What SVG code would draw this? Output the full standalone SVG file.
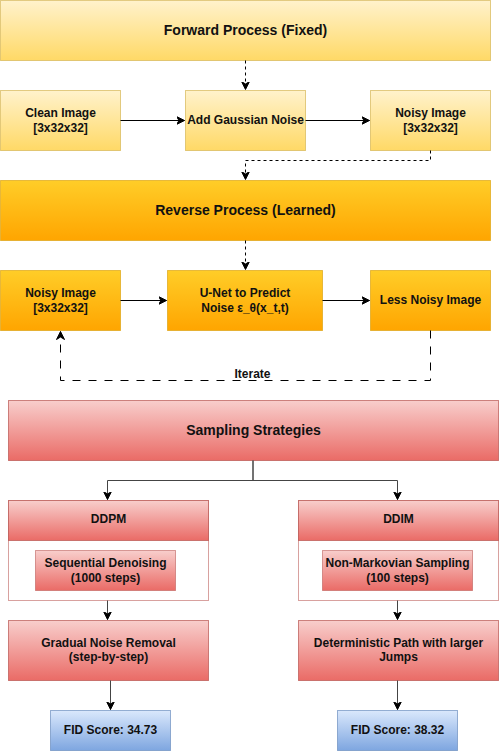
<svg xmlns="http://www.w3.org/2000/svg" width="499" height="751" viewBox="0 0 499 751">
<defs>
<linearGradient id="gY" x1="0" y1="0" x2="0" y2="1"><stop offset="0" stop-color="#fff2cc"/><stop offset="1" stop-color="#ffd966"/></linearGradient>
<linearGradient id="gO" x1="0" y1="0" x2="0" y2="1"><stop offset="0" stop-color="#ffcd28"/><stop offset="1" stop-color="#ffa500"/></linearGradient>
<linearGradient id="gR" x1="0" y1="0" x2="0" y2="1"><stop offset="0" stop-color="#f8cecc"/><stop offset="1" stop-color="#ea6b66"/></linearGradient>
<linearGradient id="gB" x1="0" y1="0" x2="0" y2="1"><stop offset="0" stop-color="#dae8fc"/><stop offset="1" stop-color="#7ea6e0"/></linearGradient>
<marker id="arr" markerUnits="userSpaceOnUse" markerWidth="10" markerHeight="10" viewBox="0 0 10 10" refX="8" refY="5" orient="auto">
<path d="M0,1 L8,5 L0,9 L2.5,5 Z" fill="#000" stroke="#000" stroke-width="1" stroke-linejoin="miter"/>
</marker>
<style>
.y{fill:url(#gY);stroke:#d6b656;stroke-opacity:0.7}
.o{fill:url(#gO);stroke:#d79b00;stroke-opacity:0.6}
.r{fill:url(#gR);stroke:#b85450;stroke-opacity:0.7}
.rs{fill:url(#gR);stroke:#b85450;stroke-opacity:0.55}
.lane{fill:#fff;stroke:#b85450;stroke-opacity:0.55}
.b{fill:url(#gB);stroke:#6c8ebf;stroke-opacity:0.7}
text{font-family:"Liberation Sans",Arial,Helvetica,sans-serif;font-weight:bold;fill:#111;text-anchor:middle}
.t14{font-size:14px}
.t12{font-size:12px}
.e{fill:none;stroke:#000;stroke-width:1}
.eg{fill:none;stroke:#444;stroke-width:1}
.d{stroke-dasharray:3 3}
.dl{stroke-dasharray:8 8}
</style>
</defs>
<g transform="translate(0.5,0.5)">
<g id="forward"><rect class="y" x="0" y="0" width="490" height="60"/><text class="t14" x="245" y="34">Forward Process (Fixed)</text></g>
<g id="clean"><rect class="y" x="0" y="90" width="120" height="60"/><text class="t12" x="60" y="116">Clean Image</text><text class="t12" x="60" y="131">[3x32x32]</text></g>
<g id="addnoise"><rect class="y" x="185" y="90" width="120" height="60"/><text class="t12" x="245" y="123">Add Gaussian Noise</text></g>
<g id="noisy1"><rect class="y" x="370" y="90" width="120" height="60"/><text class="t12" x="430" y="116">Noisy Image</text><text class="t12" x="430" y="131">[3x32x32]</text></g>
<g id="reverse"><rect class="o" x="0" y="180" width="490" height="60"/><text class="t14" x="245" y="214">Reverse Process (Learned)</text></g>
<g id="noisy2"><rect class="o" x="0" y="270" width="120" height="60"/><text class="t12" x="60" y="296">Noisy Image</text><text class="t12" x="60" y="311">[3x32x32]</text></g>
<g id="unet"><rect class="o" x="167" y="270" width="155" height="60"/><text class="t12" x="244.5" y="296">U-Net to Predict</text><text class="t12" x="244.5" y="311">Noise ε_θ(x_t,t)</text></g>
<g id="lessnoisy"><rect class="o" x="370" y="270" width="120" height="60"/><text class="t12" x="430" y="303">Less Noisy Image</text></g>
<g id="sampling"><rect class="r" x="8" y="400" width="490" height="60"/><text class="t14" x="253" y="434">Sampling Strategies</text></g>
<g id="ddpm"><rect class="lane" x="8" y="500" width="200" height="100"/><rect class="r" x="8" y="500" width="200" height="40"/><text class="t12" x="108" y="522">DDPM</text>
<rect class="rs" x="35" y="550" width="140" height="40"/><text class="t12" x="105" y="566">Sequential Denoising</text><text class="t12" x="105" y="581">(1000 steps)</text></g>
<g id="ddim"><rect class="lane" x="298" y="500" width="200" height="100"/><rect class="r" x="298" y="500" width="200" height="40"/><text class="t12" x="398" y="522">DDIM</text>
<rect class="rs" x="322" y="550" width="150" height="40"/><text class="t12" x="397" y="566">Non-Markovian Sampling</text><text class="t12" x="397" y="581">(100 steps)</text></g>
<g id="gradual"><rect class="r" x="8" y="620" width="200" height="60"/><text class="t12" x="108" y="646">Gradual Noise Removal</text><text class="t12" x="108" y="660">(step-by-step)</text></g>
<g id="deterministic"><rect class="r" x="298" y="620" width="200" height="60"/><text class="t12" x="398" y="646">Deterministic Path with larger</text><text class="t12" x="398" y="660">Jumps</text></g>
<g id="fid1"><rect class="b" x="50" y="710" width="120" height="40"/><text class="t12" x="110" y="733">FID Score: 34.73</text></g>
<g id="fid2"><rect class="b" x="337" y="710" width="120" height="40"/><text class="t12" x="397" y="733">FID Score: 38.32</text></g>
<g id="connectors">
<path class="e d" d="M245 60 V89" marker-end="url(#arr)"/>
<path class="e" d="M120 120 H184" marker-end="url(#arr)"/>
<path class="e" d="M305 120 H369" marker-end="url(#arr)"/>
<path class="e d" d="M430 150 V160 H245 V179" marker-end="url(#arr)"/>
<path class="e d" d="M245 240 V269" marker-end="url(#arr)"/>
<path class="e" d="M120 300 H166" marker-end="url(#arr)"/>
<path class="e" d="M322 300 H369" marker-end="url(#arr)"/>
<path class="e dl" d="M430 330 V380 H60 V331" marker-end="url(#arr)"/>
<text class="t12" x="252" y="377">Iterate</text>
<path class="eg" d="M252.5 460 V480 H107 V499" marker-end="url(#arr)"/>
<path class="eg" d="M252.5 460 V480 H397 V499" marker-end="url(#arr)"/>
<path class="eg" d="M107 600 V619" marker-end="url(#arr)"/>
<path class="eg" d="M397 600 V619" marker-end="url(#arr)"/>
<path class="eg" d="M110 680 V709" marker-end="url(#arr)"/>
<path class="eg" d="M397 680 V709" marker-end="url(#arr)"/>
</g>
</g>
</svg>
